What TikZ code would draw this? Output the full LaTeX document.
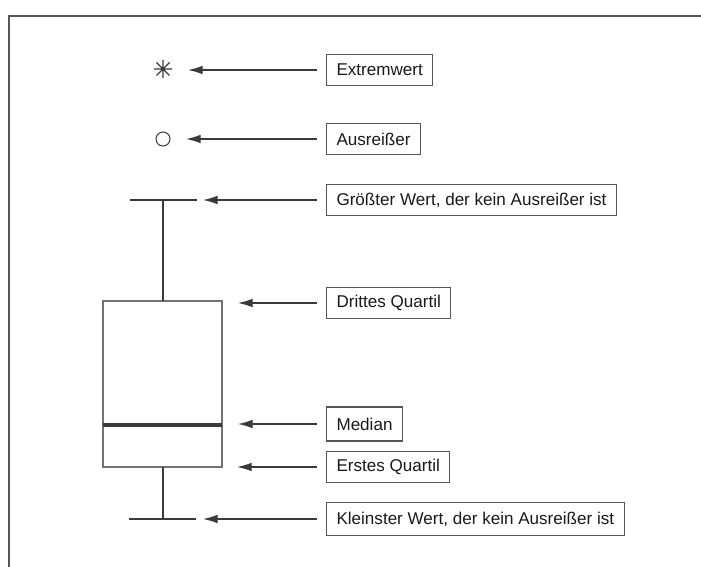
\documentclass[tikz,border=0pt]{standalone}
\usepackage{fontspec}
\setmainfont{Liberation Sans}
\usetikzlibrary{arrows.meta}
\definecolor{ink}{HTML}{3A3A3A}
\definecolor{frame}{HTML}{555555}
\begin{document}
\begin{tikzpicture}[x=0.75pt,y=-0.75pt,
  lbl/.style={draw=frame,line width=0.8pt,anchor=west,inner xsep=7.5pt,minimum height=23pt,font=\fontsize{12.8}{15}\selectfont,text=black!90},
  arr/.style={draw=ink,line width=1pt,-{Latex[length=11pt,width=6.5pt]},shorten <=7pt},
  plotline/.style={draw=ink,line width=1pt},
  boxline/.style={draw=black!55,line width=0.8pt}]
\useasboundingbox (0,0) rectangle (701,567);
% frame
\draw[frame,line width=1.2pt] (701,16) -- (9,16) -- (9,567);
% boxplot
\draw[boxline] (103,301) rectangle (222,467);
\draw[ink,line width=2.4pt] (103,425) -- (222,425);
\draw[plotline] (163,301) -- (163,200);
\draw[plotline] (130,200) -- (197,200);
\draw[plotline] (163,467) -- (163,519);
\draw[plotline] (129,519) -- (196,519);
% asterisk and circle
\coordinate (ast) at (163,69);
\draw[ink,line width=0.8pt] ([shift={(-9,0)}]ast) -- ([shift={(9,0)}]ast)
  ([shift={(0,-9)}]ast) -- ([shift={(0,9)}]ast)
  ([shift={(-6.5,-6.5)}]ast) -- ([shift={(6.5,6.5)}]ast)
  ([shift={(-6.5,6.5)}]ast) -- ([shift={(6.5,-6.5)}]ast);
\node[circle,draw=ink,line width=0.8pt,minimum size=10.5pt,inner sep=0pt] (out) at (163,139) {};
% arrow targets (x positions of the tips)
\coordinate (tExt) at (188,69);
\coordinate (tAus) at (186,139);
\coordinate (tMax) at (203,200);
\coordinate (tQ3) at (238,302);
\coordinate (tMed) at (238,425);
\coordinate (tQ1) at (237,467);
\coordinate (tMin) at (203,519);
% labels
\node[lbl] (ext) at (326,70) {Extremwert};
\node[lbl] (aus) at (326,139) {Ausreißer};
\node[lbl] (max) at (326,200) {Größter Wert, der kein Ausreißer ist};
\node[lbl] (q3) at (326,303) {Drittes Quartil};
\node[lbl,minimum height=25.5pt] (med) at (326,424) {Median};
\node[lbl] (q1) at (326,467) {Erstes Quartil};
\node[lbl,minimum height=24.5pt] (min) at (326,519) {Kleinster Wert, der kein Ausreißer ist};
% connectors
\draw[arr] (ext) -- (ext -| tExt);
\draw[arr] (aus) -- (aus -| tAus);
\draw[arr] (max) -- (max -| tMax);
\draw[arr] (q3) -- (q3 -| tQ3);
\draw[arr] (med) -- (med -| tMed);
\draw[arr] (q1) -- (q1 -| tQ1);
\draw[arr] (min) -- (min -| tMin);
\end{tikzpicture}
\end{document}
